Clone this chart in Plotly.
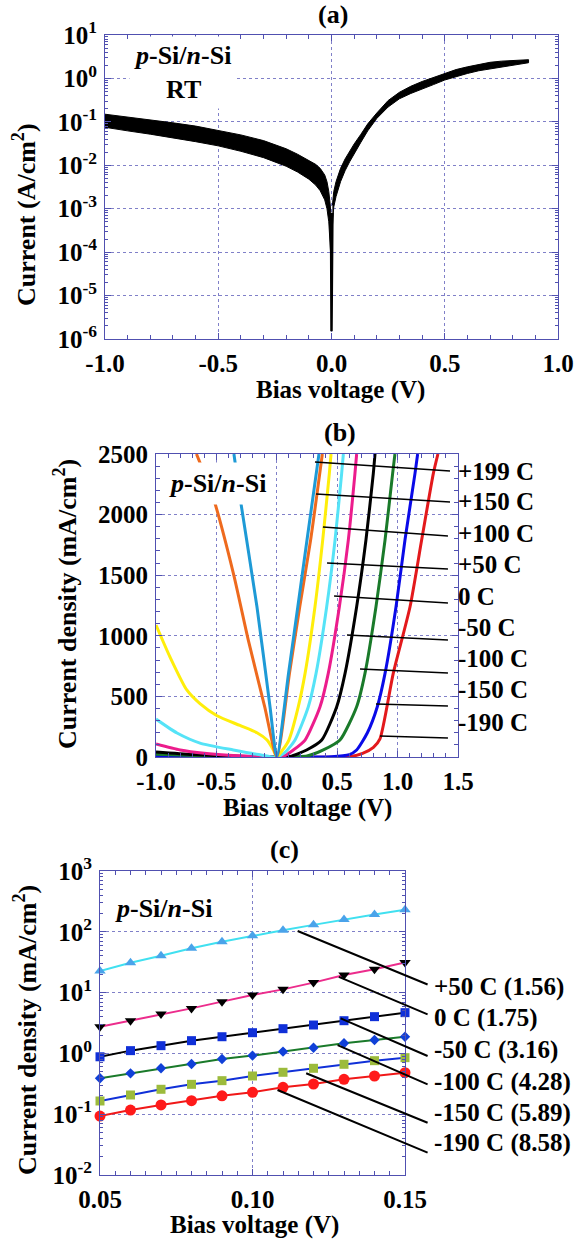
import math
import plotly.graph_objects as go

# ---------------- Panel (a): p-Si/n-Si at RT, |J| (A/cm^2) ----------------
a_rev_v = [-1.0, -0.9, -0.8, -0.7, -0.6, -0.5, -0.4, -0.3, -0.2, -0.15, -0.1, -0.07, -0.05, -0.03, -0.02, -0.012, -0.006, -0.003]
a_rev_upper = [0.15, 0.13, 0.112, 0.095, 0.08, 0.064, 0.05, 0.037, 0.024, 0.018, 0.013, 0.0105, 0.0085, 0.006, 0.0042, 0.0025, 0.0013, 0.0008]
a_rev_lower = [0.075, 0.062, 0.052, 0.043, 0.035, 0.028, 0.021, 0.015, 0.0095, 0.007, 0.0048, 0.0035, 0.0026, 0.0016, 0.001, 0.0005, 0.0002, 0.00008]
a_spike_v = [-0.004, -0.0015, 0.0, 0.0015, 0.004]
a_spike_i = [8e-4, 1e-4, 1.5e-6, 1e-4, 8e-4]
a_fwd_v = [0.004, 0.01, 0.02, 0.04, 0.06, 0.08, 0.1, 0.13, 0.16, 0.2, 0.25, 0.3, 0.35, 0.4, 0.45, 0.5, 0.55, 0.6, 0.65, 0.7, 0.75, 0.8, 0.87]
a_fwd_upper = [0.0012, 0.0025, 0.0042, 0.0085, 0.014, 0.021, 0.031, 0.052, 0.09, 0.16, 0.31, 0.48, 0.66, 0.85, 1.05, 1.35, 1.6, 1.85, 2.1, 2.35, 2.5, 2.6, 2.7]
a_fwd_lower = [0.0004, 0.0011, 0.0019, 0.0042, 0.0075, 0.012, 0.019, 0.034, 0.062, 0.12, 0.22, 0.34, 0.45, 0.57, 0.72, 0.92, 1.1, 1.3, 1.5, 1.7, 1.85, 2.0, 2.3]
a_xticks = [-1.0, -0.5, 0.0, 0.5, 1.0]
a_xticklabels = ["-1.0", "-0.5", "0.0", "0.5", "1.0"]
a_yticks = [1e-6, 1e-5, 1e-4, 1e-3, 1e-2, 1e-1, 1e0, 1e1]
a_yticklabels = ["10<sup>-6</sup>", "10<sup>-5</sup>", "10<sup>-4</sup>", "10<sup>-3</sup>",
                 "10<sup>-2</sup>", "10<sup>-1</sup>", "10<sup>0</sup>", "10<sup>1</sup>"]

# ---------------- Panel (b): J-V (mA/cm^2) at temperatures ----------------
b_labels = ["+199 C", "+150 C", "+100 C", "+50 C", "0 C", "-50 C", "-100 C", "-150 C", "-190 C"]
b199_v = [-0.355, -0.305, -0.164, -0.056, 0.0, 0.097, 0.174, 0.25, 0.349]
b199_j = [2500, 2145, 1238, 413, 0, 690, 1240, 1790, 2500]
b150_v = [-0.665, -0.528, -0.36, -0.236, -0.10, 0.0, 0.105, 0.19, 0.28, 0.377]
b150_j = [2500, 2145, 1518, 965, 413, 0, 690, 1240, 1790, 2500]
b100_v = [-1.0, -0.884, -0.745, -0.636, -0.495, -0.305, -0.164, -0.081, -0.03, 0.0, 0.05, 0.1, 0.178, 0.234, 0.316, 0.380, 0.435, 0.449]
b100_j = [1089, 825, 553, 440, 340, 260, 200, 140, 60, 0, 60, 140, 415, 690, 1240, 1790, 2340, 2500]
b50_v = [-1.0, -0.826, -0.636, -0.36, -0.15, 0.0, 0.07, 0.151, 0.261, 0.325, 0.413, 0.482, 0.537, 0.551]
b50_j = [313, 198, 115, 58, 20, 0, 40, 140, 415, 690, 1240, 1790, 2340, 2500]
b0_v = [-1.0, -0.8, -0.6, -0.4, -0.2, 0.0, 0.06, 0.137, 0.234, 0.358, 0.426, 0.518, 0.592, 0.647, 0.661]
b0_j = [107, 58, 30, 14, 5, 0, 8, 58, 140, 415, 690, 1240, 1790, 2340, 2500]
bm50_v = [-1.0, -0.7, -0.4, -0.1, 0.0, 0.11, 0.247, 0.372, 0.496, 0.565, 0.661, 0.738, 0.799, 0.813]
bm50_j = [41, 20, 8, 2, 0, 5, 58, 140, 415, 690, 1240, 1790, 2340, 2500]
bm100_v = [-1.0, -0.6, -0.2, 0.0, 0.25, 0.385, 0.523, 0.661, 0.730, 0.821, 0.896, 0.959, 0.978]
bm100_j = [22, 10, 3, 0, 8, 58, 140, 415, 690, 1240, 1790, 2340, 2500]
bm150_v = [-1.0, -0.5, 0.0, 0.45, 0.6, 0.661, 0.75, 0.832, 0.896, 0.987, 1.061, 1.144, 1.166]
bm150_j = [8, 3, 0, 3, 20, 58, 200, 415, 690, 1240, 1790, 2340, 2500]
bm190_v = [-1.0, -0.5, 0.0, 0.6, 0.71, 0.80, 0.854, 0.964, 1.103, 1.199, 1.296, 1.334]
bm190_j = [3, 1, 0, 2, 30, 80, 150, 690, 1240, 1790, 2340, 2500]
b_xticks = [-1.0, -0.5, 0.0, 0.5, 1.0, 1.5]
b_xticklabels = ["-1.0", "-0.5", "0.0", "0.5", "1.0", "1.5"]

# ---------------- Panel (c): low-bias semilog, ideality factors ----------------
c_v = [0.05, 0.06, 0.07, 0.08, 0.09, 0.10, 0.11, 0.12, 0.13, 0.14, 0.15]
c_p50 = [22.6, 30.9, 40.4, 53.7, 68.8, 86, 106, 130, 160, 192, 230]
c_0 = [2.75, 3.45, 4.45, 5.5, 7.1, 9.1, 11.3, 14.6, 19.5, 24.2, 31.4]
c_m50 = [0.88, 1.11, 1.34, 1.62, 1.88, 2.19, 2.55, 2.93, 3.45, 4.02, 4.68]
c_m100 = [0.39, 0.47, 0.57, 0.67, 0.81, 0.92, 1.07, 1.24, 1.47, 1.66, 1.88]
c_m150 = [0.165, 0.207, 0.257, 0.31, 0.356, 0.425, 0.489, 0.569, 0.662, 0.759, 0.851]
c_m190 = [0.093, 0.117, 0.142, 0.167, 0.201, 0.229, 0.277, 0.314, 0.375, 0.425, 0.482]
c_labels = ["+50 C (1.56)", "0 C (1.75)", "-50 C (3.16)", "-100 C (4.28)", "-150 C (5.89)", "-190 C (8.58)"]
c_xticks = [0.05, 0.10, 0.15]
c_xticklabels = ["0.05", "0.10", "0.15"]
c_yticks = [1e-2, 1e-1, 1e0, 1e1, 1e2, 1e3]
c_yticklabels = ["10<sup>-2</sup>", "10<sup>-1</sup>", "10<sup>0</sup>", "10<sup>1</sup>", "10<sup>2</sup>", "10<sup>3</sup>"]

# ---------------- styling ----------------
W, H = 579, 1240
FONT = "Liberation Serif"
SPINE = "#5050B0"
GRID = "#8080C8"
TICK_SIZE = 25


def px(x):
    return x / W


def py(y):
    return 1 - y / H


def log_minor(lo, hi):
    vals = []
    for e in range(lo, hi):
        for m in range(2, 10):
            vals.append(m * 10 ** e)
    return vals


def axis_common(**kw):
    d = dict(showline=True, linecolor=SPINE, linewidth=1, mirror="allticks",
             ticks="inside", ticklen=6, tickcolor=SPINE, tickwidth=1,
             showgrid=True, gridcolor=GRID, griddash="dot", gridwidth=1,
             zeroline=False, automargin=False, ticklabelstandoff=2,
             tickfont=dict(family=FONT, size=TICK_SIZE, color="black", weight="bold"))
    d.update(kw)
    return d


fig = go.Figure()

# ---- (a) ----
fig.add_trace(go.Scatter(x=a_rev_v + a_rev_v[::-1], y=a_rev_upper + a_rev_lower[::-1],
                         fill="toself", fillcolor="black", mode="lines",
                         line=dict(color="black", width=1), xaxis="x", yaxis="y"))
fig.add_trace(go.Scatter(x=a_spike_v, y=a_spike_i, mode="lines",
                         line=dict(color="black", width=2.5), xaxis="x", yaxis="y"))
fig.add_trace(go.Scatter(x=a_fwd_v + a_fwd_v[::-1], y=a_fwd_upper + a_fwd_lower[::-1],
                         fill="toself", fillcolor="black", mode="lines",
                         line=dict(color="black", width=1), xaxis="x", yaxis="y"))

# ---- (b) ----
b_series = [
    (bm190_v, bm190_j, "#E3191C"),
    (bm150_v, bm150_j, "#0A0AE8"),
    (bm100_v, bm100_j, "#1A7A2A"),
    (bm50_v, bm50_j, "#000000"),
    (b0_v, b0_j, "#EC1C8C"),
    (b50_v, b50_j, "#55E3F7"),
    (b100_v, b100_j, "#FFEE0A"),
    (b150_v, b150_j, "#EE6A1E"),
    (b199_v, b199_j, "#1E9AD6"),
]
for v, j, col in b_series:
    fig.add_trace(go.Scatter(x=v, y=j, mode="lines",
                             line=dict(color=col, width=3, shape="spline", smoothing=0.6),
                             xaxis="x2", yaxis="y2"))

# ---- (c) ----
c_series = [
    (c_p50, "#40E0F0", "triangle-up", "#4AA3EA", 10),
    (c_0, "#EC2C8C", "triangle-down", "#000000", 10),
    (c_m50, "#000000", "square", "#1030D8", 9),
    (c_m100, "#1A7A2A", "diamond", "#1040D8", 8),
    (c_m150, "#1030D8", "square", "#9CBB3C", 9),
    (c_m190, "#F01818", "circle", "#FF1A1A", 11),
]
for jv, lcol, sym, mcol, size in c_series:
    fig.add_trace(go.Scatter(x=c_v, y=jv, mode="lines+markers",
                             line=dict(color=lcol, width=2),
                             marker=dict(symbol=sym, color=mcol, size=size, line=dict(width=0)),
                             xaxis="x3", yaxis="y3", cliponaxis=False))

# ---- axes ----
fig.update_layout(
    xaxis=axis_common(domain=[px(105), px(558)], anchor="y", range=[-1, 1],
                      tickmode="array", tickvals=a_xticks, ticktext=a_xticklabels,
                      minor=dict(dtick=0.1, tick0=0, ticks="inside", ticklen=4, tickcolor=SPINE, showgrid=False)),
    yaxis=axis_common(domain=[py(339), py(35)], anchor="x", type="log", range=[-6, 1],
                      tickmode="array", tickvals=a_yticks, ticktext=a_yticklabels,
                      minor=dict(tickmode="array", tickvals=log_minor(-6, 1), ticks="inside",
                                 ticklen=3, tickcolor=SPINE, showgrid=False)),
    xaxis2=axis_common(domain=[px(156), px(458)], anchor="y2", range=[-1, 1.5],
                       tickmode="array", tickvals=b_xticks, ticktext=b_xticklabels,
                       minor=dict(dtick=0.1, tick0=0, ticks="inside", ticklen=4, tickcolor=SPINE, showgrid=False)),
    yaxis2=axis_common(domain=[py(757), py(454)], anchor="x2", range=[0, 2500], dtick=500, tick0=0,
                       minor=dict(dtick=100, tick0=0, ticks="inside", ticklen=4, tickcolor=SPINE, showgrid=False)),
    xaxis3=axis_common(domain=[px(100), px(405)], anchor="y3", range=[0.05, 0.15],
                       tickmode="array", tickvals=c_xticks, ticktext=c_xticklabels,
                       minor=dict(dtick=0.005, tick0=0.05, ticks="inside", ticklen=4, tickcolor=SPINE, showgrid=False)),
    yaxis3=axis_common(domain=[py(1175), py(871)], anchor="x3", type="log", range=[-2, 3],
                       tickmode="array", tickvals=c_yticks, ticktext=c_yticklabels,
                       minor=dict(tickmode="array", tickvals=log_minor(-2, 3), ticks="inside",
                                  ticklen=3, tickcolor=SPINE, showgrid=False)),
)

# ---- leader lines (b) ----
b_leaders = [(0.316, 2434, 1.434, 2360), (0.325, 2170, 1.434, 2104), (0.382, 1898, 1.417, 1823),
             (0.416, 1601, 1.417, 1551), (0.474, 1328, 1.417, 1271), (0.581, 1007, 1.417, 965),
             (0.689, 726, 1.417, 693), (0.821, 437, 1.417, 421), (0.854, 173, 1.417, 157)]
shapes = []
for x0, y0, x1, y1 in b_leaders:
    shapes.append(dict(type="line", xref="x2", yref="y2", x0=x0, y0=y0, x1=x1, y1=y1,
                       line=dict(color="black", width=1.5)))

annotations = []
# ---- leader lines (c) via arrow annotations (not clipped to the plot area) ----
c_leaders = [(0.1148, 103, 0.1579, 13.3), (0.1283, 18.1, 0.1579, 4.29), (0.1289, 3.77, 0.1579, 0.883),
             (0.1279, 1.37, 0.1579, 0.302), (0.1176, 0.471, 0.1579, 0.0708), (0.1082, 0.25, 0.1579, 0.0228)]
for x0, y0, x1, y1 in c_leaders:
    annotations.append(dict(xref="x3", yref="y3", axref="x3", ayref="y3",
                            x=x0, y=math.log10(y0), ax=x1, ay=math.log10(y1), text="",
                            showarrow=True, arrowhead=0, arrowwidth=2, arrowcolor="black",
                            standoff=0, startstandoff=0))


def txt(x, y, text, size=26, xanchor="center", angle=0, bg=None, pad=1):
    d = dict(xref="paper", yref="paper", x=px(x), y=py(y), text=text, showarrow=False,
             xanchor=xanchor, yanchor="middle", textangle=angle, borderpad=pad,
             font=dict(family=FONT, size=size, color="black", weight="bold"))
    if bg:
        d["bgcolor"] = bg
    return d


annotations += [
    txt(333, 15, "(a)"), txt(340, 433, "(b)"), txt(284, 850, "(c)"),
    txt(340, 390, "Bias voltage (V)", size=25), txt(307, 808, "Bias voltage (V)", size=25),
    txt(254, 1225, "Bias voltage (V)", size=25),
    txt(25, 215, "Current (A/cm<sup>2</sup>)", angle=-90),
    txt(65, 604, "Current density (mA/cm<sup>2</sup>)", angle=-90),
    txt(25, 1030, "Current density (mA/cm<sup>2</sup>)", angle=-90),
    txt(182, 72, "<i>p</i>-Si/<i>n</i>-Si<br>RT", bg="white", pad=4),
    txt(217, 483, "<i>p</i>-Si/<i>n</i>-Si", bg="white", pad=6),
    txt(163, 908, "<i>p</i>-Si/<i>n</i>-Si", bg="white", pad=3),
]
b_label_y = [472, 502, 533, 564, 596, 627, 658, 689, 722]
for lab, yy in zip(b_labels, b_label_y):
    annotations.append(txt(456, yy, lab, size=25, xanchor="left"))
c_label_y = [987, 1018, 1050, 1082, 1113, 1143]
for lab, yy in zip(c_labels, c_label_y):
    annotations.append(txt(432, yy, lab, size=25, xanchor="left"))

fig.update_layout(width=W, height=H, autosize=False, template="none",
                  margin=dict(l=0, r=0, t=0, b=0), showlegend=False,
                  paper_bgcolor="white", plot_bgcolor="white",
                  shapes=shapes, annotations=annotations)

# no modebar; remove the default 8px page margin so the figure sits at the window origin
fig.write_html("out.html", config={"displayModeBar": False},
               post_script="document.body.style.margin='0px';")
